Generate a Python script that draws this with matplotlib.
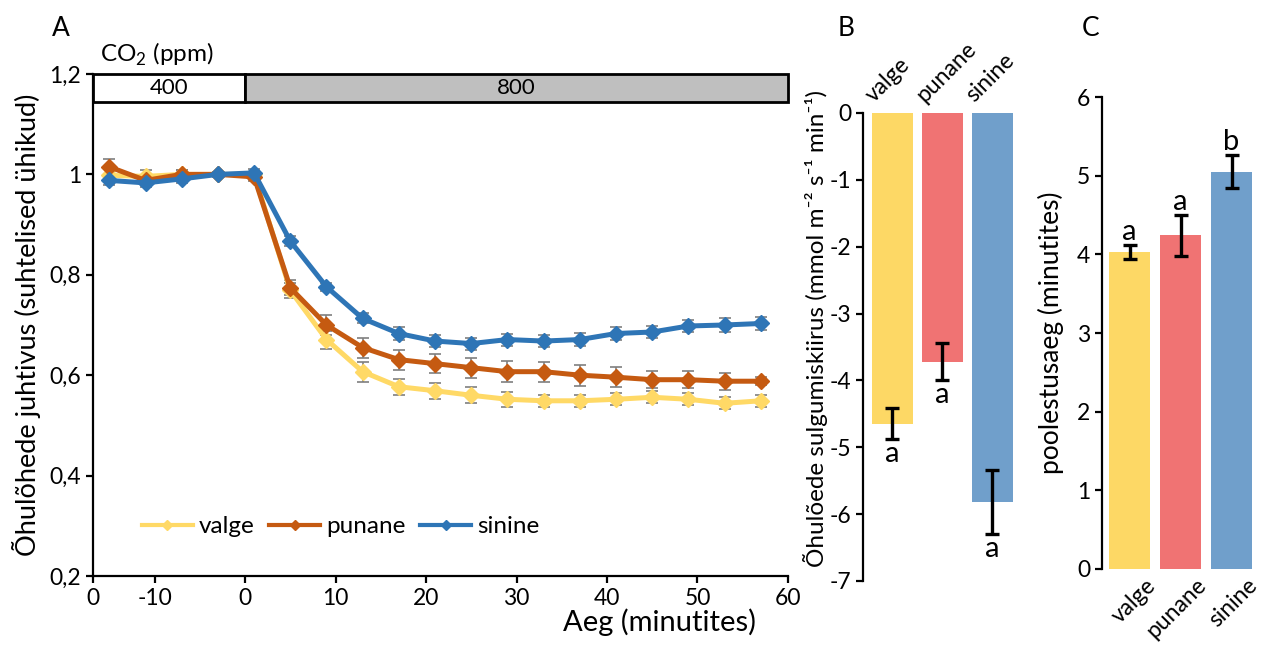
import matplotlib.pyplot as plt
from matplotlib.patches import Rectangle

plt.rcParams['font.family'] = ['Lato', 'DejaVu Sans']
plt.rcParams['axes.unicode_minus'] = False

# --- andmed ---
aeg = [-15, -11, -7, -3, 1, 5, 9, 13, 17, 21, 25, 29, 33, 37, 41, 45, 49, 53, 57]
valge = [0.998, 0.996, 1.0, 1.0, 1.0, 0.769, 0.671, 0.607, 0.577, 0.569, 0.560, 0.552,
         0.549, 0.549, 0.552, 0.556, 0.552, 0.544, 0.549]
valge_se = [0.012, 0.012, 0.008, 0.005, 0.005, 0.015, 0.018, 0.02, 0.016, 0.016, 0.016,
            0.015, 0.012, 0.012, 0.012, 0.012, 0.012, 0.012, 0.012]
punane = [1.015, 0.988, 1.0, 1.0, 0.995, 0.774, 0.700, 0.655, 0.631, 0.623, 0.615, 0.607,
          0.607, 0.600, 0.596, 0.591, 0.591, 0.588, 0.588]
punane_se = [0.015, 0.01, 0.008, 0.005, 0.008, 0.015, 0.02, 0.02, 0.02, 0.019, 0.02,
             0.021, 0.02, 0.021, 0.02, 0.017, 0.017, 0.017, 0.008]
sinine = [0.988, 0.983, 0.991, 1.0, 1.003, 0.867, 0.776, 0.713, 0.683, 0.668, 0.663, 0.671,
          0.668, 0.671, 0.683, 0.686, 0.698, 0.700, 0.703]
sinine_se = [0.01, 0.008, 0.008, 0.005, 0.008, 0.01, 0.008, 0.01, 0.012, 0.012, 0.012,
             0.012, 0.012, 0.013, 0.012, 0.012, 0.012, 0.014, 0.013]

xtick_pos = [-16.8, -10, 0, 10, 20, 30, 40, 50, 60]
xtick_lab = ['0', '-10', '0', '10', '20', '30', '40', '50', '60']
ytick_pos = [0.2, 0.4, 0.6, 0.8, 1.0, 1.2]
ytick_lab = ['0,2', '0,4', '0,6', '0,8', '1', '1,2']

valgus = ['valge', 'punane', 'sinine']
kiirus = [-4.65, -3.72, -5.82]
kiirus_se = [0.23, 0.28, 0.48]
kiirus_tahed = ['a', 'a', 'a']
poolaeg = [4.03, 4.24, 5.05]
poolaeg_se = [0.09, 0.26, 0.21]
poolaeg_tahed = ['a', 'a', 'b']

joone_varvid = ['#FFD966', '#C55A11', '#2E75B6']
tulba_varvid = ['#FDD865', '#F07373', '#709FCB']

fig = plt.figure(figsize=(12.64, 6.49), dpi=100)

# ---------- A ----------
axA = fig.add_axes([0.0736, 0.1125, 0.5498, 0.7735])
for y, se, nimi, c in zip([valge, punane, sinine], [valge_se, punane_se, sinine_se],
                          valgus, joone_varvid):
    axA.errorbar(aeg, y, yerr=se, fmt='none', ecolor='#7F7F7F', elinewidth=1.2,
                 capsize=4.5, capthick=1.2, zorder=2)
    axA.plot(aeg, y, color=c, lw=3.6, marker='D', markersize=8, label=nimi, zorder=3)

axA.set_xlim(-16.8, 60)
axA.set_ylim(0.2, 1.2)
axA.set_xticks(xtick_pos)
axA.set_xticklabels(xtick_lab)
axA.set_yticks(ytick_pos)
axA.set_yticklabels(ytick_lab)
axA.spines['top'].set_visible(False)
axA.spines['right'].set_visible(False)
for s in ['left', 'bottom']:
    axA.spines[s].set_linewidth(1.6)
axA.tick_params(labelsize=16.5, width=1.6, length=5, direction='out')
axA.set_xlabel('Aeg (minutites)', fontsize=21, x=0.815, labelpad=0)
axA.set_ylabel('Õhulõhede juhtivus (suhtelised ühikud)', fontsize=19.5, labelpad=6)

# CO2 riba
axA.add_patch(Rectangle((-16.8, 1.145), 16.8, 0.055, facecolor='white',
                        edgecolor='black', lw=2, clip_on=False, zorder=4))
axA.add_patch(Rectangle((0, 1.145), 60, 0.055, facecolor='#BFBFBF',
                        edgecolor='black', lw=2, clip_on=False, zorder=4))
axA.text(-8.4, 1.1725, '400', ha='center', va='center', fontsize=16, zorder=5)
axA.text(30, 1.1725, '800', ha='center', va='center', fontsize=16, zorder=5)
axA.text(-16, 1.212, 'CO$_\\mathregular{2}$ (ppm)', ha='left', va='bottom', fontsize=17.5)

leg = axA.legend(loc='center left', bbox_to_anchor=(0.07, 0.098), ncol=3, frameon=False,
                 fontsize=17.5, handlelength=2.1, handletextpad=0.25, columnspacing=0.6,
                 borderpad=0, borderaxespad=0, markerscale=0.6)
for ln in leg.get_lines():
    ln.set_linewidth(3)

# ---------- B ----------
axB = fig.add_axes([0.6828, 0.1048, 0.1218, 0.7211])
x = range(len(valgus))
axB.bar(x, kiirus, width=0.82, color=tulba_varvid, yerr=kiirus_se,
        error_kw=dict(ecolor='black', elinewidth=2.4, capsize=5, capthick=2.4))
axB.set_xlim(-0.58, 2.5)
axB.set_ylim(-7, 0)
axB.set_yticks(range(-7, 1))
axB.set_xticks([])
for s in ['top', 'right', 'bottom']:
    axB.spines[s].set_visible(False)
axB.spines['left'].set_linewidth(1.6)
axB.tick_params(labelsize=16.5, width=1.6, length=5)
for i, nimi in enumerate(valgus):
    axB.text(i - 0.3, 0.1, nimi, rotation=45, rotation_mode='anchor', ha='left',
             va='bottom', fontsize=16.5, clip_on=False)
    axB.text(i, kiirus[i] - kiirus_se[i] - 0.02, kiirus_tahed[i], ha='center', va='top',
             fontsize=21)
axB.set_ylabel('Õhulõede sulgumiskiirus (mmol m⁻² s⁻¹ min⁻¹)', fontsize=17.5)
axB.yaxis.set_label_coords(-0.23, 0.54)

# ---------- C ----------
axC = fig.add_axes([0.8718, 0.1233, 0.1227, 0.7272])
axC.bar(x, poolaeg, width=0.82, color=tulba_varvid, yerr=poolaeg_se,
        error_kw=dict(ecolor='black', elinewidth=2.4, capsize=5, capthick=2.4))
axC.set_xlim(-0.54, 2.5)
axC.set_ylim(0, 6)
axC.set_yticks(range(0, 7))
axC.set_xticks([])
for s in ['top', 'right', 'bottom']:
    axC.spines[s].set_visible(False)
axC.spines['left'].set_linewidth(1.6)
axC.tick_params(labelsize=16.5, width=1.6, length=5)
for i, nimi in enumerate(valgus):
    axC.text(i + 0.3, -0.07, nimi, rotation=45, rotation_mode='anchor', ha='right',
             va='top', fontsize=16.5, clip_on=False)
    axC.text(i, poolaeg[i] + poolaeg_se[i] + 0.0, poolaeg_tahed[i], ha='center',
             va='bottom', fontsize=21)
axC.set_ylabel('poolestusaeg (minutites)', fontsize=19, labelpad=9)

# paneelide tähed
fig.text(0.041, 0.945, 'A', fontsize=19)
fig.text(0.663, 0.945, 'B', fontsize=19)
fig.text(0.856, 0.945, 'C', fontsize=19)

plt.savefig('out.png', dpi=100)
